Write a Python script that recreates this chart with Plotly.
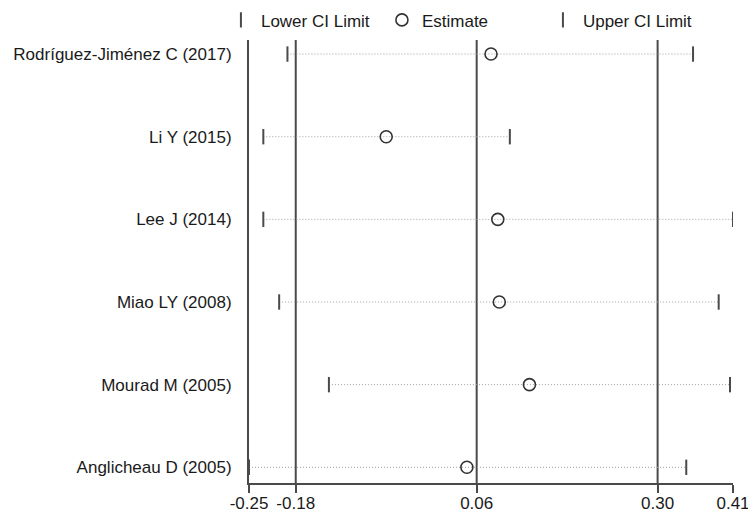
import plotly.graph_objects as go

studies = ["Rodríguez-Jiménez C (2017)", "Li Y (2015)", "Lee J (2014)",
           "Miao LY (2008)", "Mourad M (2005)", "Anglicheau D (2005)"]
lower = [-0.191, -0.223, -0.223, -0.202, -0.136, -0.242]
estimate = [0.079, -0.060, 0.088, 0.090, 0.130, 0.047]
upper = [0.347, 0.104, 0.400, 0.381, 0.396, 0.338]

overall_est = 0.06
overall_lo = -0.18
overall_hi = 0.30

tick_vals = [-0.242, -0.18, 0.06, 0.30, 0.40]
tick_text = ["-0.25", "-0.18", "0.06", "0.30", "0.41"]

DARK = "#4a4a4a"
FONT = "Liberation Sans, Arial, sans-serif"

fig = go.Figure()

# dotted CI lines
for i, s in enumerate(studies):
    fig.add_trace(go.Scatter(
        x=[lower[i], upper[i]], y=[i, i], mode="lines",
        line=dict(color="#a0a0a0", width=1, dash="1px,2px"),
        showlegend=False, hoverinfo="skip"))

idx = list(range(len(studies)))
fig.add_trace(go.Scatter(
    x=lower, y=idx, mode="markers", name="Lower CI Limit",
    marker=dict(symbol="line-ns-open", size=11, color=DARK, line=dict(color=DARK, width=2))))
fig.add_trace(go.Scatter(
    x=estimate, y=idx, mode="markers", name="Estimate",
    marker=dict(symbol="circle-open", size=12, color="#333333",
                line=dict(color="#333333", width=1.6))))
fig.add_trace(go.Scatter(
    x=upper, y=idx, mode="markers", name="Upper CI Limit",
    marker=dict(symbol="line-ns-open", size=11, color=DARK, line=dict(color=DARK, width=2))))

for v in [overall_lo, overall_est, overall_hi]:
    fig.add_shape(type="line", xref="x", yref="paper", x0=v, x1=v, y0=0, y1=1,
                  line=dict(color=DARK, width=2), layer="below")

# page body has an 8px margin, so the figure is 8px smaller than the window
fig.update_layout(
    width=748, height=504,
    margin=dict(l=241, r=23, t=32, b=29, autoexpand=False),
    paper_bgcolor="white", plot_bgcolor="white",
    font=dict(family=FONT, size=17, color="#1a1a1a"),
    showlegend=True,
    legend=dict(orientation="h", x=-0.058, y=1.085, xanchor="left", yanchor="top",
                entrywidth=116, entrywidthmode="pixels", itemwidth=30,
                font=dict(size=17), bgcolor="rgba(0,0,0,0)", tracegroupgap=0),
    xaxis=dict(range=[tick_vals[0], tick_vals[-1]], tickvals=tick_vals, ticktext=tick_text,
               showgrid=False, zeroline=False, showline=True, linecolor=DARK, linewidth=2,
               ticks="outside", ticklen=8, tickwidth=2, tickcolor=DARK,
               ticklabelstandoff=-4, tickfont=dict(size=17)),
    yaxis=dict(range=[5.19, -0.17], tickvals=idx, ticktext=studies,
               showgrid=False, zeroline=False, showline=True, linecolor=DARK, linewidth=2,
               ticks="", ticklabelstandoff=12, tickfont=dict(size=17)),
)

fig.write_html("out.html")
